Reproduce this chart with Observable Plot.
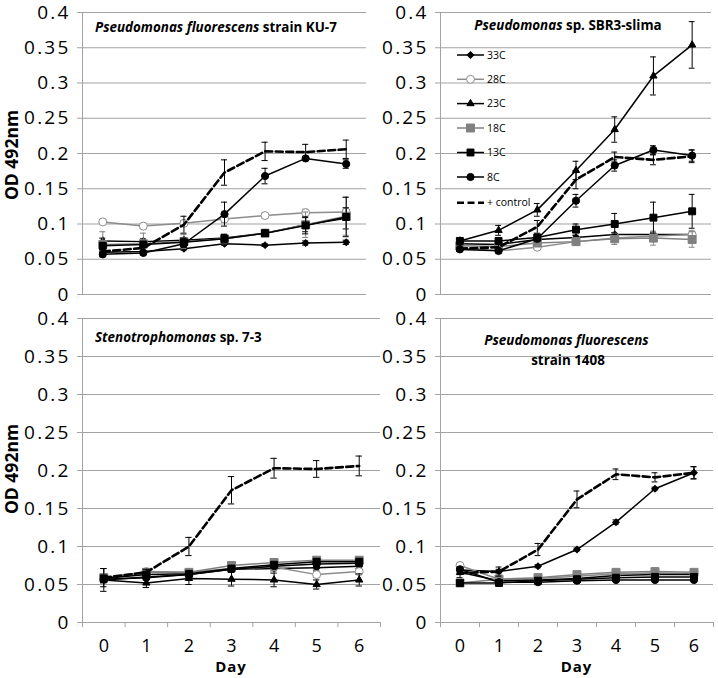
<!DOCTYPE html>
<html>
<head>
<meta charset="utf-8">
<script src="https://cdn.jsdelivr.net/npm/d3@7"></script>
<script src="https://cdn.jsdelivr.net/npm/@observablehq/plot@0.6"></script>
<style>
  body { margin: 0; background: #fff; }
  #chart { position: relative; width: 718px; height: 678px; background: #fff; overflow: hidden; }
  #chart svg { position: absolute; overflow: visible; }
  [aria-label="y-axis tick label"] { letter-spacing: 2.2px; }
  [aria-label="day labels"] { letter-spacing: 2px; }
</style>
</head>
<body>
<div id="chart"></div>
<script>
// ---------- shared axes ----------
const days = [0, 1, 2, 3, 4, 5, 6];
const yTicks = [0, 0.05, 0.1, 0.15, 0.2, 0.25, 0.3, 0.35, 0.4];
const xBounds = [-0.5, 0.5, 1.5, 2.5, 3.5, 4.5, 5.5, 6.5];
const seriesNames = ["33C", "28C", "23C", "18C", "13C", "8C", "+ control"];
const yLabel = "OD 492nm";
const xLabel = "Day";

// ---------- Pseudomonas fluorescens strain KU-7 ----------
const ku7_33C = [0.060, 0.061, 0.065, 0.072, 0.070, 0.073, 0.074];
const ku7_28C = [0.103, 0.097, 0.101, 0.107, 0.112, 0.116, 0.117];
const ku7_23C = [0.076, 0.075, 0.077, 0.080, 0.087, 0.099, 0.108];
const ku7_18C = [0.071, 0.072, 0.075, 0.079, 0.087, 0.099, 0.111];
const ku7_13C = [0.069, 0.071, 0.074, 0.079, 0.087, 0.098, 0.110];
const ku7_8C  = [0.057, 0.059, 0.072, 0.114, 0.168, 0.193, 0.185];
const ku7_ctl = [0.061, 0.066, 0.099, 0.173, 0.203, 0.202, 0.206];
const ku7_33C_err = [0.002, 0.002, 0.002, 0.002, 0.002, 0.003, 0.003];
const ku7_28C_err = [0.003, 0.003, 0.004, 0.005, 0.004, 0.005, 0.006];
const ku7_23C_err = [0.004, 0.004, 0.004, 0.005, 0.003, 0.010, 0.015];
const ku7_18C_err = [0.018, 0.015, 0.010, 0.007, 0.004, 0.018, 0.027];
const ku7_13C_err = [0.005, 0.004, 0.006, 0.006, 0.004, 0.012, 0.028];
const ku7_8C_err  = [0.003, 0.003, 0.004, 0.017, 0.011, 0.003, 0.006];
const ku7_ctl_err = [0.003, 0.004, 0.012, 0.018, 0.013, 0.011, 0.013];

// ---------- Pseudomonas sp. SBR3-slima ----------
const sbr_33C = [0.072, 0.071, 0.078, 0.081, 0.085, 0.085, 0.085];
const sbr_28C = [0.066, 0.062, 0.067, 0.075, 0.080, 0.083, 0.085];
const sbr_23C = [0.076, 0.091, 0.120, 0.176, 0.234, 0.310, 0.354];
const sbr_18C = [0.069, 0.068, 0.073, 0.075, 0.079, 0.080, 0.078];
const sbr_13C = [0.076, 0.076, 0.081, 0.092, 0.100, 0.109, 0.118];
const sbr_8C  = [0.064, 0.062, 0.079, 0.133, 0.183, 0.205, 0.197];
const sbr_ctl = [0.065, 0.067, 0.096, 0.163, 0.195, 0.191, 0.196];
const sbr_33C_err = [0.003, 0.003, 0.003, 0.003, 0.003, 0.003, 0.003];
const sbr_28C_err = [0.004, 0.003, 0.003, 0.004, 0.005, 0.006, 0.006];
const sbr_23C_err = [0.003, 0.007, 0.009, 0.013, 0.018, 0.027, 0.033];
const sbr_18C_err = [0.005, 0.004, 0.004, 0.004, 0.008, 0.010, 0.011];
const sbr_13C_err = [0.003, 0.003, 0.004, 0.008, 0.015, 0.022, 0.024];
const sbr_8C_err  = [0.003, 0.003, 0.004, 0.009, 0.008, 0.006, 0.008];
const sbr_ctl_err = [0.004, 0.004, 0.009, 0.013, 0.007, 0.007, 0.009];

// ---------- Stenotrophomonas sp. 7-3 ----------
const st_33C = [0.056, 0.060, 0.063, 0.070, 0.071, 0.072, 0.074];
const st_28C = [0.058, 0.067, 0.066, 0.071, 0.073, 0.063, 0.067];
const st_23C = [0.056, 0.052, 0.058, 0.057, 0.056, 0.050, 0.056];
const st_18C = [0.059, 0.066, 0.066, 0.075, 0.079, 0.082, 0.082];
const st_13C = [0.058, 0.063, 0.064, 0.071, 0.076, 0.080, 0.080];
const st_8C  = [0.057, 0.059, 0.063, 0.070, 0.074, 0.077, 0.078];
const st_ctl = [0.059, 0.066, 0.100, 0.174, 0.203, 0.202, 0.206];
const st_33C_err = [0.004, 0.003, 0.003, 0.003, 0.003, 0.003, 0.003];
const st_28C_err = [0.004, 0.003, 0.003, 0.003, 0.004, 0.004, 0.004];
const st_23C_err = [0.015, 0.006, 0.008, 0.009, 0.009, 0.006, 0.008];
const st_18C_err = [0.004, 0.003, 0.003, 0.003, 0.003, 0.003, 0.003];
const st_13C_err = [0.004, 0.003, 0.003, 0.003, 0.003, 0.003, 0.003];
const st_8C_err  = [0.004, 0.003, 0.003, 0.003, 0.003, 0.003, 0.003];
const st_ctl_err = [0.012, 0.004, 0.012, 0.018, 0.013, 0.011, 0.013];

// ---------- Pseudomonas fluorescens strain 1408 ----------
const pf_33C = [0.069, 0.067, 0.074, 0.096, 0.132, 0.176, 0.197];
const pf_28C = [0.075, 0.057, 0.058, 0.061, 0.064, 0.065, 0.064];
const pf_23C = [0.066, 0.055, 0.056, 0.058, 0.062, 0.063, 0.063];
const pf_18C = [0.052, 0.057, 0.059, 0.063, 0.066, 0.067, 0.066];
const pf_13C = [0.052, 0.052, 0.055, 0.057, 0.059, 0.060, 0.060];
const pf_8C  = [0.070, 0.053, 0.053, 0.055, 0.056, 0.056, 0.056];
const pf_ctl = [0.065, 0.067, 0.096, 0.162, 0.195, 0.191, 0.197];
const pf_33C_err = [0.003, 0.003, 0.002, 0.002, 0.003, 0.002, 0.008];
const pf_28C_err = [0.003, 0.002, 0.002, 0.002, 0.002, 0.002, 0.002];
const pf_23C_err = [0.003, 0.002, 0.002, 0.002, 0.002, 0.002, 0.002];
const pf_18C_err = [0.002, 0.002, 0.002, 0.002, 0.002, 0.002, 0.002];
const pf_13C_err = [0.002, 0.002, 0.002, 0.002, 0.002, 0.002, 0.002];
const pf_8C_err  = [0.003, 0.002, 0.002, 0.002, 0.002, 0.002, 0.002];
const pf_ctl_err = [0.006, 0.006, 0.008, 0.011, 0.007, 0.006, 0.008];

// ---------- styling ----------
const gridColor = "#a3a3a3";
const FONT = '"Open Sans", sans-serif';
const styles = {
  "33C":       {stroke: "#000", width: 1.5, symbol: "square", rotate: 45, r: 2.6, fill: "#000", mstroke: "#000"},
  "28C":       {stroke: "#8c8c8c", width: 1.5, symbol: "circle", r: 4, fill: "#fff", mstroke: "#8c8c8c"},
  "23C":       {stroke: "#000", width: 1.5, symbol: "triangle", r: 2.7, fill: "#000", mstroke: "#000"},
  "18C":       {stroke: "#808080", width: 1.5, symbol: "square", r: 4.5, fill: "#808080", mstroke: "#808080"},
  "13C":       {stroke: "#000", width: 1.5, symbol: "square", r: 3.9, fill: "#000", mstroke: "#000"},
  "8C":        {stroke: "#000", width: 1.5, symbol: "circle", r: 3.6, fill: "#000", mstroke: "#000"},
  "+ control": {stroke: "#000", width: 2.6, dash: "7,3.5", symbol: null}
};

const fmt = d => d === 0 ? "0" : String(+d.toFixed(2));

function panel({values, errors, width, height, marginLeft, marginRight, marginTop, marginBottom, showX}) {
  const marks = [];
  marks.push(Plot.ruleY(yTicks, {stroke: gridColor, strokeWidth: 1}));
  marks.push(Plot.ruleX([-0.5], {stroke: gridColor, strokeWidth: 1}));
  marks.push(Plot.axisY({ticks: yTicks, tickSize: 5, tickPadding: 7, tickFormat: fmt,
    fontSize: 19, stroke: gridColor, fill: "#000", label: null}));
  if (showX) {
    marks.push(Plot.axisX({ticks: xBounds, tickSize: 5, tickFormat: () => "", stroke: gridColor, label: null}));
    marks.push(Plot.text(days, {x: d => d, text: d => String(d), frameAnchor: "bottom",
      lineAnchor: "bottom", dy: 29.5, fontSize: 18, fill: "#000", ariaLabel: "day labels"}));
  }
  seriesNames.forEach((name, i) => {
    const s = styles[name];
    const rows = days.map((d, j) => ({day: d, value: values[i][j], err: errors[i][j]}));
    const ecol = s.stroke;
    marks.push(Plot.ruleX(rows, {x: "day", y1: d => d.value - d.err, y2: d => d.value + d.err, stroke: ecol, strokeWidth: 1}));
    marks.push(Plot.ruleY(rows, {y: d => d.value + d.err, x1: d => d.day - 0.075, x2: d => d.day + 0.075, stroke: ecol, strokeWidth: 1}));
    marks.push(Plot.ruleY(rows, {y: d => d.value - d.err, x1: d => d.day - 0.075, x2: d => d.day + 0.075, stroke: ecol, strokeWidth: 1}));
    marks.push(Plot.line(rows, {x: "day", y: "value", stroke: s.stroke, strokeWidth: s.width,
      strokeDasharray: s.dash || null, curve: "linear"}));
    if (s.symbol) {
      marks.push(Plot.dot(rows, {x: "day", y: "value", symbol: s.symbol, r: s.r, fill: s.fill,
        stroke: s.mstroke, strokeWidth: 1, rotate: s.rotate || 0}));
    }
  });
  return Plot.plot({
    width, height, marginLeft, marginRight, marginTop, marginBottom,
    x: {type: "linear", domain: [-0.5, 6.5], axis: null},
    y: {type: "linear", domain: [0, 0.4], axis: null},
    style: {background: "transparent", overflow: "visible", fontFamily: FONT, color: "#000"},
    marks
  });
}

function addTitle(svg, x, y, parts, anchor) {
  const t = d3.select(svg).append("text")
    .attr("x", x).attr("y", y)
    .attr("font-family", FONT).attr("font-size", 13.4).attr("font-weight", "bold")
    .attr("text-anchor", anchor || "start").attr("fill", "#000");
  parts.forEach(p => t.append("tspan").attr("font-style", p.italic ? "italic" : "normal").text(p.text));
}

function addYLabel(svg, cy) {
  d3.select(svg).append("text")
    .attr("transform", `translate(18,${cy}) rotate(-90)`)
    .attr("text-anchor", "middle")
    .attr("font-family", FONT).attr("font-size", 17.5).attr("font-weight", "bold").attr("fill", "#000")
    .text(yLabel);
}

function addXLabel(svg, yBase) {
  d3.select(svg).append("text")
    .attr("x", svg.scale("x").apply(3)).attr("y", yBase)
    .attr("text-anchor", "middle")
    .attr("font-family", FONT).attr("font-size", 15).attr("font-weight", "bold").attr("fill", "#000")
    .attr("letter-spacing", 1)
    .text(xLabel);
}

const chart = document.getElementById("chart");

// Top-left
const tl = panel({
  values: [ku7_33C, ku7_28C, ku7_23C, ku7_18C, ku7_13C, ku7_8C, ku7_ctl],
  errors: [ku7_33C_err, ku7_28C_err, ku7_23C_err, ku7_18C_err, ku7_13C_err, ku7_8C_err, ku7_ctl_err],
  width: 370, height: 300, marginLeft: 82, marginRight: 4, marginTop: 12, marginBottom: 6, showX: false
});
tl.style.left = "0px"; tl.style.top = "0px";
chart.appendChild(tl);
addTitle(tl, 95, 32, [{text: "Pseudomonas fluorescens", italic: true}, {text: " strain KU-7"}]);
addYLabel(tl, 155);

// Top-right
const tr = panel({
  values: [sbr_33C, sbr_28C, sbr_23C, sbr_18C, sbr_13C, sbr_8C, sbr_ctl],
  errors: [sbr_33C_err, sbr_28C_err, sbr_23C_err, sbr_18C_err, sbr_13C_err, sbr_8C_err, sbr_ctl_err],
  width: 360, height: 300, marginLeft: 82, marginRight: 7, marginTop: 12, marginBottom: 6, showX: false
});
tr.style.left = "358px"; tr.style.top = "0px";
chart.appendChild(tr);
addTitle(tr, 210, 30, [{text: "Pseudomonas", italic: true}, {text: " sp. SBR3-slima"}], "middle");

// Legend inside top-right panel
(function legend(svg) {
  const g = d3.select(svg).append("g")
    .attr("font-family", FONT).attr("font-size", 10.5).attr("text-anchor", "start");
  const rowY = [55, 79.3, 103.6, 128, 152.5, 177, 202.7];
  seriesNames.forEach((name, i) => {
    const s = styles[name];
    const y = rowY[i];
    g.append("line").attr("x1", 99).attr("x2", 126).attr("y1", y).attr("y2", y)
      .attr("stroke", s.stroke).attr("stroke-width", s.width).attr("stroke-dasharray", s.dash || null);
    if (s.symbol) {
      const type = {circle: d3.symbolCircle, square: d3.symbolSquare, triangle: d3.symbolTriangle}[s.symbol];
      g.append("path").attr("d", d3.symbol(type, Math.PI * s.r * s.r)())
        .attr("transform", `translate(112.5,${y}) rotate(${s.rotate || 0})`)
        .attr("fill", s.fill).attr("stroke", s.mstroke).attr("stroke-width", 1);
    }
    g.append("text").attr("x", 129).attr("y", y).attr("dy", "0.35em")
      .attr("text-anchor", "start").attr("fill", "#000").text(name);
  });
})(tr);

// Bottom-left
const bl = panel({
  values: [st_33C, st_28C, st_23C, st_18C, st_13C, st_8C, st_ctl],
  errors: [st_33C_err, st_28C_err, st_23C_err, st_18C_err, st_13C_err, st_8C_err, st_ctl_err],
  width: 385, height: 378, marginLeft: 82, marginRight: 5, marginTop: 18, marginBottom: 56, showX: true
});
bl.style.left = "0px"; bl.style.top = "300px";
chart.appendChild(bl);
addTitle(bl, 95, 42, [{text: "Stenotrophomonas", italic: true}, {text: " sp. 7-3"}]);
addYLabel(bl, 169);
addXLabel(bl, 372);

// Bottom-right
const br = panel({
  values: [pf_33C, pf_28C, pf_23C, pf_18C, pf_13C, pf_8C, pf_ctl],
  errors: [pf_33C_err, pf_28C_err, pf_23C_err, pf_18C_err, pf_13C_err, pf_8C_err, pf_ctl_err],
  width: 360, height: 378, marginLeft: 82, marginRight: 5, marginTop: 18, marginBottom: 56, showX: true
});
br.style.left = "358px"; br.style.top = "300px";
chart.appendChild(br);
addTitle(br, 208.5, 45, [{text: "Pseudomonas fluorescens", italic: true}], "middle");
addTitle(br, 210, 65, [{text: "strain 1408"}], "middle");
addXLabel(br, 372);
</script>
</body>
</html>
